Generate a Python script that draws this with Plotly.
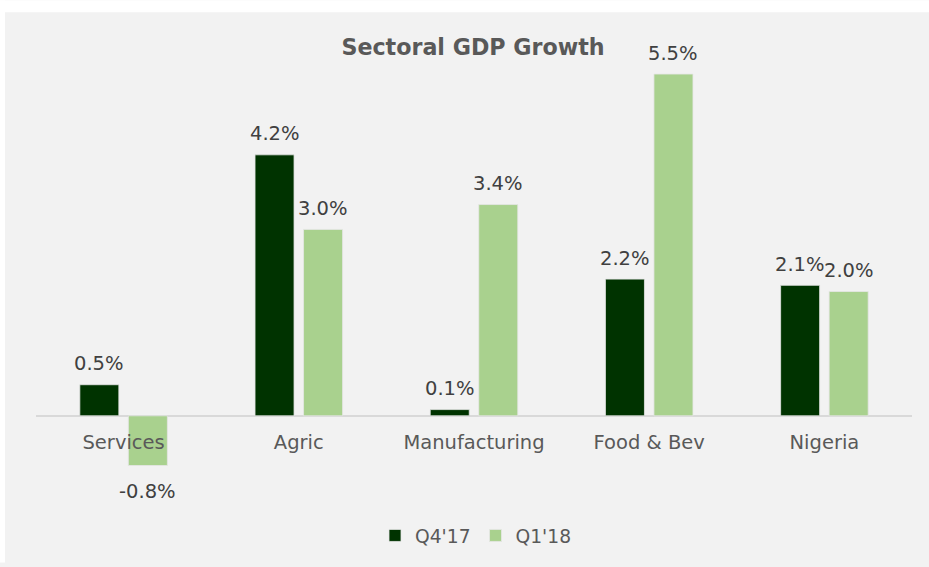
import plotly.graph_objects as go

# Sector categories and quarterly GDP growth (%)
categories = ["Services", "Agric", "Manufacturing", "Food & Bev", "Nigeria"]
q4_17 = [0.5, 4.2, 0.1, 2.2, 2.1]
q1_18 = [-0.8, 3.0, 3.4, 5.5, 2.0]
series_names = ["Q4'17", "Q1'18"]
series_colors = ["#003300", "#a9d18e"]

FONT = "Verdana, DejaVu Sans, sans-serif"
W, H = 929, 567
ML, MR, MT, MB = 36, 17, 43, 54
Y_MIN, Y_MAX = -1.5, 6.0

fig = go.Figure()
for name, vals, col in zip(series_names, [q4_17, q1_18], series_colors):
    fig.add_trace(go.Bar(
        x=categories, y=vals, name=name,
        marker=dict(color=col, line=dict(color="#e6e6e6", width=0.8)),
    ))

# Value labels above (or below) each bar
plot_w = W - ML - MR
slot = plot_w / len(categories)
bar_off = slot * (1 - 0.446) / 4
annotations = []
for vals, sign in [(q4_17, -1), (q1_18, 1)]:
    for cat, v in zip(categories, vals):
        annotations.append(dict(
            x=cat, y=v, xref="x", yref="y",
            text=f"{v:.1f}%", showarrow=False,
            xshift=sign * bar_off,
            yshift=21 if v >= 0 else -26,
            yanchor="middle",
            font=dict(family=FONT, size=19.5, color="#404040"),
        ))

def px_to_paper_x(px):
    return (px - ML) / plot_w

def px_to_paper_y(py):
    return (H - MB - py) / (H - MT - MB)

zero_pos = px_to_paper_y(MT + (Y_MAX / (Y_MAX - Y_MIN)) * (H - MT - MB))

# White strips around the grey chart panel
shapes = [
    dict(type="rect", xref="paper", yref="paper",
         x0=px_to_paper_x(0), x1=px_to_paper_x(W), y0=px_to_paper_y(12), y1=px_to_paper_y(0),
         fillcolor="white", line=dict(width=0), layer="below"),
    dict(type="rect", xref="paper", yref="paper",
         x0=px_to_paper_x(0), x1=px_to_paper_x(5), y0=px_to_paper_y(H), y1=px_to_paper_y(0),
         fillcolor="white", line=dict(width=0), layer="below"),
]

fig.update_layout(
    width=W, height=H,
    margin=dict(l=ML, r=MR, t=MT, b=MB),
    paper_bgcolor="#f2f2f2", plot_bgcolor="#f2f2f2",
    barmode="group", bargap=0.446, bargroupgap=0.196,
    title=dict(text="<b>Sectoral GDP Growth</b>", x=px_to_paper_x(473), xref="paper",
               xanchor="center", y=1 - 47 / H, yanchor="middle",
               font=dict(family=FONT, size=22.2, color="#595959")),
    xaxis=dict(anchor="free", position=zero_pos, showline=False, showgrid=False,
               ticks="", ticklabelstandoff=13, automargin=False,
               tickfont=dict(family=FONT, size=19.5, color="#595959")),
    yaxis=dict(range=[Y_MIN, Y_MAX], showticklabels=False, showgrid=False,
               zeroline=True, zerolinecolor="#d9d9d9", zerolinewidth=2, automargin=False),
    legend=dict(orientation="h", x=px_to_paper_x(476), xanchor="center",
                y=px_to_paper_y(540), yanchor="middle",
                font=dict(family=FONT, size=18.7, color="#595959"),
                bgcolor="rgba(0,0,0,0)", itemwidth=30, tracegroupgap=0),
    annotations=annotations,
    shapes=shapes,
    showlegend=True,
)

fig.write_html("out.html")
